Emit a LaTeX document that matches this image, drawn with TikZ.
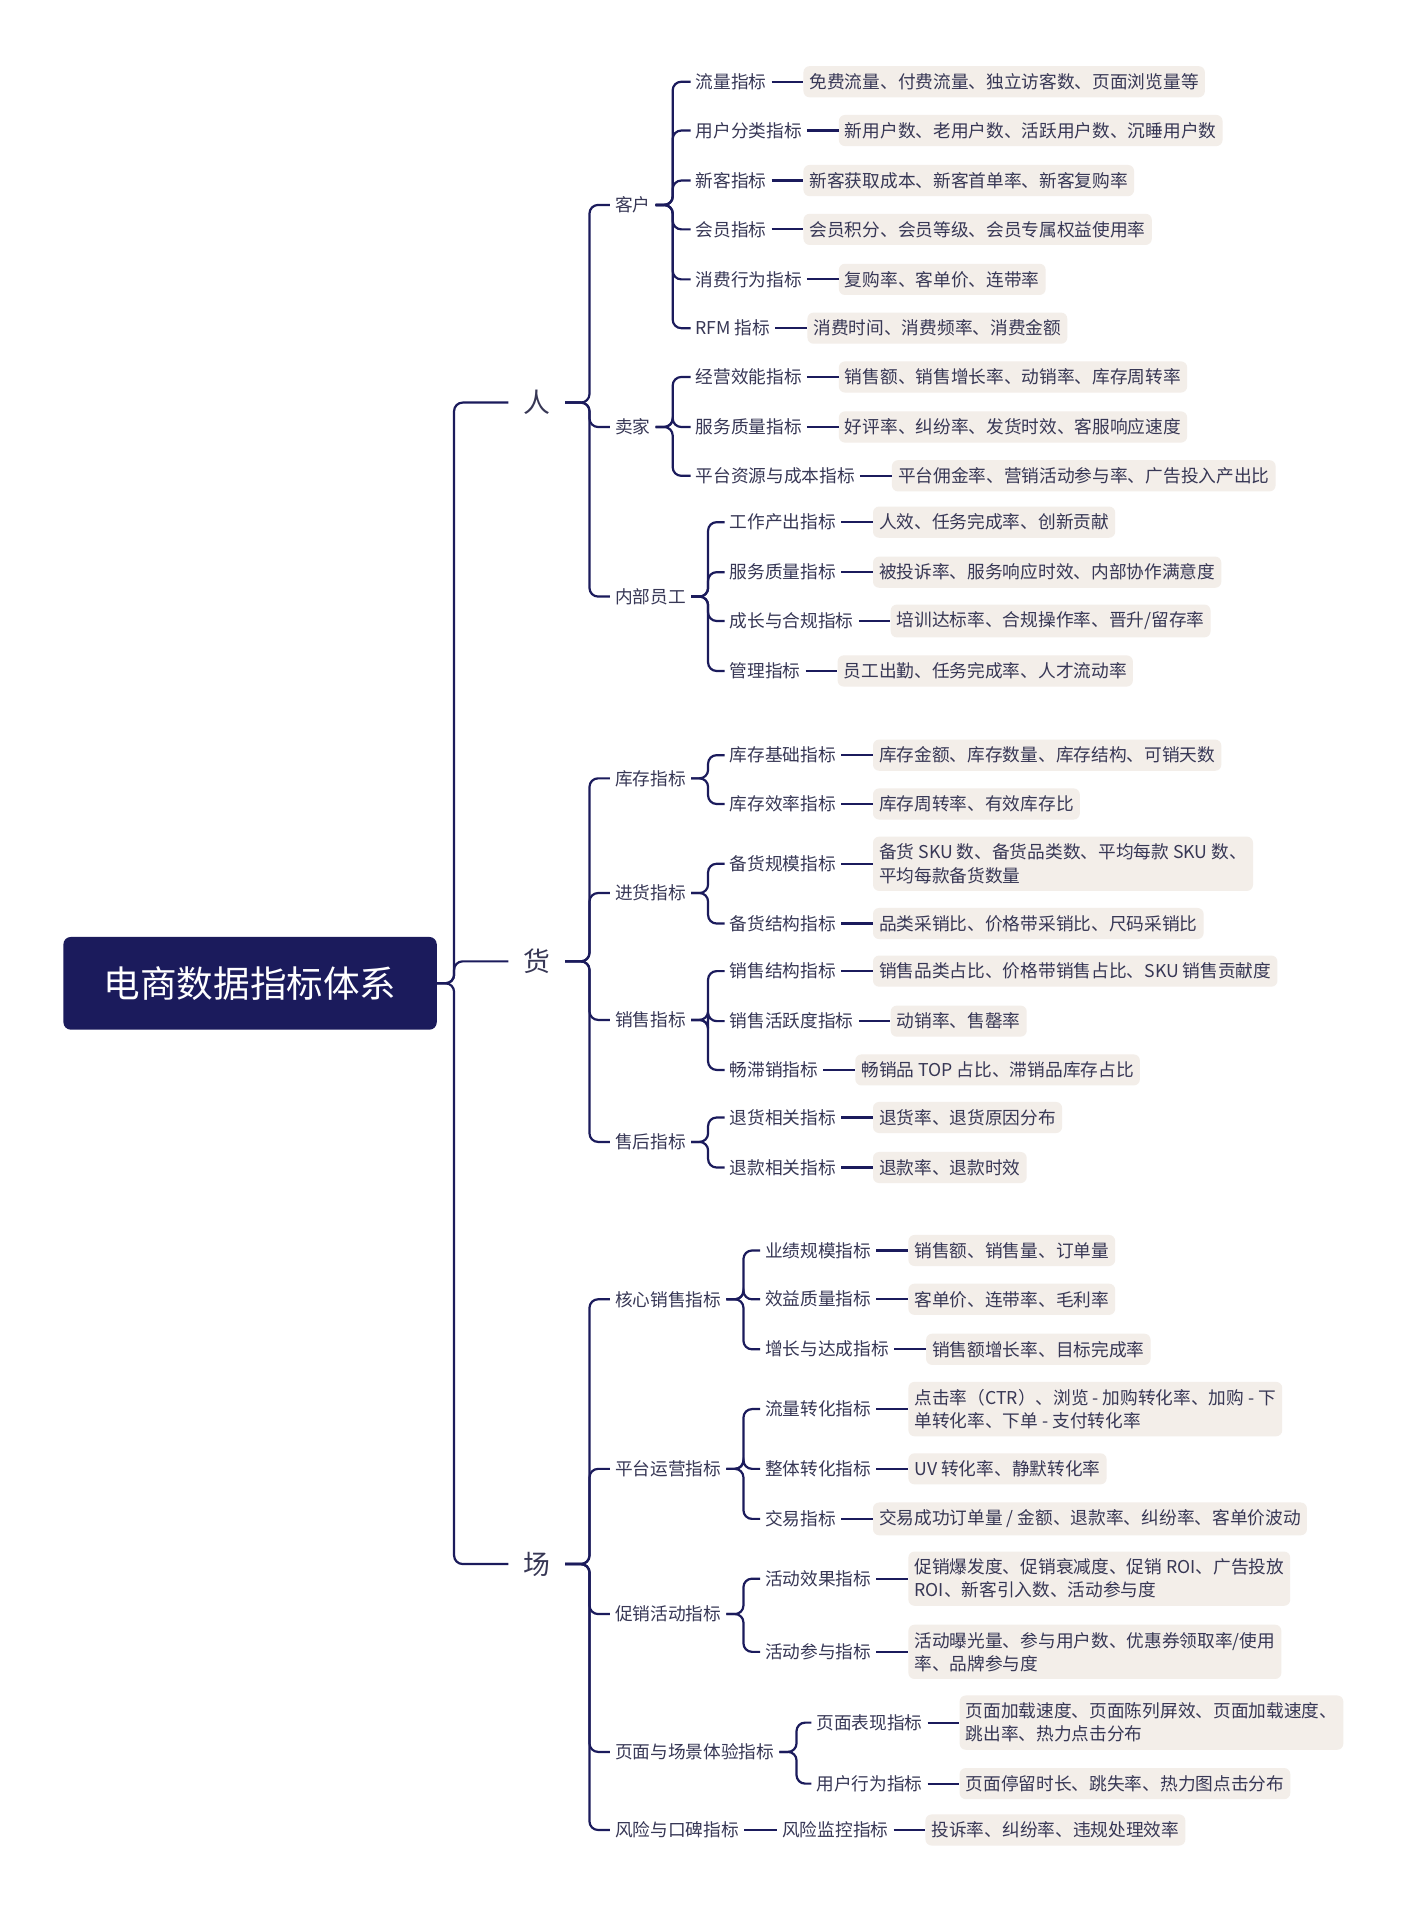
\documentclass[tikz,border=0pt]{standalone}
\usepackage{fontspec}
\setmainfont{Noto Sans CJK SC}
\usetikzlibrary{positioning}
\definecolor{navy}{RGB}{27,27,92}
\definecolor{inkcolor}{RGB}{55,55,85}
\definecolor{leafcolor}{RGB}{243,238,233}

% one metric row: name, x, y, label, leaf text
\newcommand{\mrow}[5]{%
  \node[l3] (#1) at (#2,#3) {#4};
  \node[leaf, right=26pt of #1] (#1x) {#5};
  \draw[link] (#1) -- (#1x);}

\begin{document}
\begin{tikzpicture}[
    x=1pt, y=-1pt,
    link/.style={draw=navy, line width=1.8pt, rounded corners=7pt},
    root/.style={rectangle, rounded corners=6pt, fill=navy, text=white, minimum width=306pt, minimum height=76pt, font=\fontsize{30}{34}\selectfont},
    top/.style={inner xsep=12pt, text=inkcolor, font=\fontsize{22}{26}\selectfont},
    l2/.style={anchor=west, inner xsep=4pt, inner ysep=2pt, text=inkcolor, font=\fontsize{14.5}{17}\selectfont},
    l3/.style={l2},
    leaf/.style={rectangle, rounded corners=5pt, fill=leafcolor, text=inkcolor, inner xsep=5pt, inner ysep=6pt, align=left, font=\fontsize{14.5}{19}\selectfont}
]
\useasboundingbox[fill=white] (0,0) rectangle (1160,1582);

% root and the three pillars
\node[root] (root) at (205,806) {电商数据指标体系};
\node[top] (ren) at (440,330) {人};
\node[top] (huo) at (440,788) {货};
\node[top] (chang) at (440,1282) {场};
\foreach \t in {ren,huo,chang}
  \draw[link] (root.east) -- ++(14,0) |- (\t.west);

% 人
\node[l2] (kehu) at (500,168) {客户};
\node[l2] (maijia) at (500,350) {卖家};
\node[l2] (yuangong) at (500,489) {内部员工};
\foreach \c in {kehu,maijia,yuangong}
  \draw[link] (ren.east) -- ++(20,0) |- (\c.west);

\mrow{kh1}{566}{67}{流量指标}{免费流量、付费流量、独立访客数、页面浏览量等}
\mrow{kh2}{566}{107}{用户分类指标}{新用户数、老用户数、活跃用户数、沉睡用户数}
\mrow{kh3}{566}{148}{新客指标}{新客获取成本、新客首单率、新客复购率}
\mrow{kh4}{566}{188}{会员指标}{会员积分、会员等级、会员专属权益使用率}
\mrow{kh5}{566}{229}{消费行为指标}{复购率、客单价、连带率}
\mrow{kh6}{566}{269}{RFM 指标}{消费时间、消费频率、消费金额}
\foreach \c in {kh1,kh2,kh3,kh4,kh5,kh6}
  \draw[link] (kehu.east) -- ++(14,0) |- (\c.west);

\mrow{mj1}{566}{309}{经营效能指标}{销售额、销售增长率、动销率、库存周转率}
\mrow{mj2}{566}{350}{服务质量指标}{好评率、纠纷率、发货时效、客服响应速度}
\mrow{mj3}{566}{390}{平台资源与成本指标}{平台佣金率、营销活动参与率、广告投入产出比}
\foreach \c in {mj1,mj2,mj3}
  \draw[link] (maijia.east) -- ++(14,0) |- (\c.west);

\mrow{yg1}{594}{428}{工作产出指标}{人效、任务完成率、创新贡献}
\mrow{yg2}{594}{469}{服务质量指标}{被投诉率、服务响应时效、内部协作满意度}
\mrow{yg3}{594}{509}{成长与合规指标}{培训达标率、合规操作率、晋升/留存率}
\mrow{yg4}{594}{550}{管理指标}{员工出勤、任务完成率、人才流动率}
\foreach \c in {yg1,yg2,yg3,yg4}
  \draw[link] (yuangong.east) -- ++(14,0) |- (\c.west);

% 货
\node[l2] (kucun) at (500,638) {库存指标};
\node[l2] (jinhuo) at (500,732) {进货指标};
\node[l2] (xiaoshou) at (500,836) {销售指标};
\node[l2] (shouhou) at (500,936) {售后指标};
\foreach \c in {kucun,jinhuo,xiaoshou,shouhou}
  \draw[link] (huo.east) -- ++(20,0) |- (\c.west);

\mrow{kc1}{594}{619}{库存基础指标}{库存金额、库存数量、库存结构、可销天数}
\mrow{kc2}{594}{659}{库存效率指标}{库存周转率、有效库存比}
\foreach \c in {kc1,kc2}
  \draw[link] (kucun.east) -- ++(14,0) |- (\c.west);

\mrow{jh1}{594}{708}{备货规模指标}{备货 SKU 数、备货品类数、平均每款 SKU 数、\\平均每款备货数量}
\mrow{jh2}{594}{757}{备货结构指标}{品类采销比、价格带采销比、尺码采销比}
\foreach \c in {jh1,jh2}
  \draw[link] (jinhuo.east) -- ++(14,0) |- (\c.west);

\mrow{xs1}{594}{796}{销售结构指标}{销售品类占比、价格带销售占比、SKU 销售贡献度}
\mrow{xs2}{594}{837}{销售活跃度指标}{动销率、售罄率}
\mrow{xs3}{594}{877}{畅滞销指标}{畅销品 TOP 占比、滞销品库存占比}
\foreach \c in {xs1,xs2,xs3}
  \draw[link] (xiaoshou.east) -- ++(14,0) |- (\c.west);

\mrow{sh1}{594}{916}{退货相关指标}{退货率、退货原因分布}
\mrow{sh2}{594}{957}{退款相关指标}{退款率、退款时效}
\foreach \c in {sh1,sh2}
  \draw[link] (shouhou.east) -- ++(14,0) |- (\c.west);

% 场
\node[l2] (hexin) at (500,1065) {核心销售指标};
\node[l2] (yunying) at (500,1204) {平台运营指标};
\node[l2] (cuxiao) at (500,1323) {促销活动指标};
\node[l2] (yemian) at (500,1436) {页面与场景体验指标};
\node[l2] (fengxian) at (500,1500) {风险与口碑指标};
\foreach \c in {hexin,yunying,cuxiao,yemian,fengxian}
  \draw[link] (chang.east) -- ++(20,0) |- (\c.west);

\mrow{hx1}{623}{1025}{业绩规模指标}{销售额、销售量、订单量}
\mrow{hx2}{623}{1065}{效益质量指标}{客单价、连带率、毛利率}
\mrow{hx3}{623}{1106}{增长与达成指标}{销售额增长率、目标完成率}
\foreach \c in {hx1,hx2,hx3}
  \draw[link] (hexin.east) -- ++(14,0) |- (\c.west);

\mrow{yy1}{623}{1155}{流量转化指标}{点击率（CTR）、浏览 - 加购转化率、加购 - 下\\单转化率、下单 - 支付转化率}
\mrow{yy2}{623}{1204}{整体转化指标}{UV 转化率、静默转化率}
\mrow{yy3}{623}{1245}{交易指标}{交易成功订单量 / 金额、退款率、纠纷率、客单价波动}
\foreach \c in {yy1,yy2,yy3}
  \draw[link] (yunying.east) -- ++(14,0) |- (\c.west);

\mrow{cx1}{623}{1294}{活动效果指标}{促销爆发度、促销衰减度、促销 ROI、广告投放\\ROI、新客引入数、活动参与度}
\mrow{cx2}{623}{1354}{活动参与指标}{活动曝光量、参与用户数、优惠券领取率/使用\\率、品牌参与度}
\foreach \c in {cx1,cx2}
  \draw[link] (cuxiao.east) -- ++(14,0) |- (\c.west);

\mrow{ym1}{665}{1412}{页面表现指标}{页面加载速度、页面陈列屏效、页面加载速度、\\跳出率、热力点击分布}
\mrow{ym2}{665}{1462}{用户行为指标}{页面停留时长、跳失率、热力图点击分布}
\foreach \c in {ym1,ym2}
  \draw[link] (yemian.east) -- ++(14,0) |- (\c.west);

\mrow{fx1}{637}{1500}{风险监控指标}{投诉率、纠纷率、违规处理效率}
\draw[link] (fengxian) -- (fx1);

\end{tikzpicture}
\end{document}
